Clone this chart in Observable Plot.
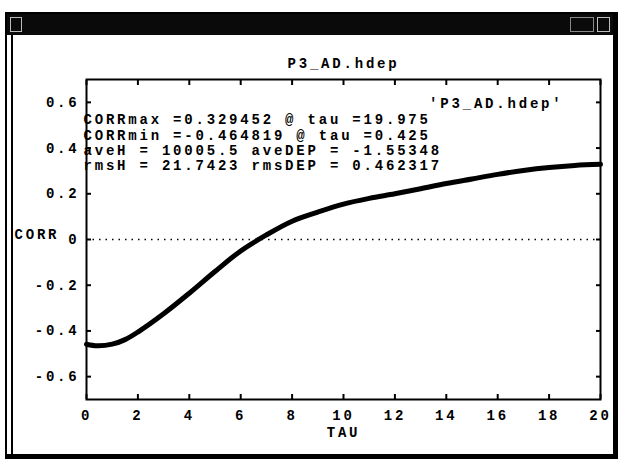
<!DOCTYPE html>
<html>
<head>
<meta charset="utf-8">
<script src="https://cdn.jsdelivr.net/npm/d3@7"></script>
<script src="https://cdn.jsdelivr.net/npm/@observablehq/plot@0.6"></script>
<style>
  html, body { margin: 0; padding: 0; background: #fff; }
  #stage { position: relative; width: 622px; height: 464px; overflow: hidden; background: #fff; }
  #win { position: absolute; left: 5px; top: 12px; width: 613px; height: 447px; border: 2px solid #000; border-right-width: 5px; border-bottom-width: 5px; box-sizing: border-box; }
  #bar { position: absolute; left: 0; top: 0; right: 0; height: 21px; background: #0a0a0a; }
  #bar .ico { position: absolute; top: 3px; height: 13px; border: 1px solid #bbb; }
  #inner { position: absolute; left: 4px; top: 21px; bottom: 0; right: 0; border-left: 2px solid #000; }
  #plot { position: absolute; left: 0; top: 0; }
  #plot svg text { letter-spacing: 2.8px; }
</style>
</head>
<body>
<div id="stage">
  <div id="win">
    <div id="bar">
      <div class="ico" style="left:3px;width:10px;"></div>
      <div class="ico" style="left:563px;width:22px;border-color:#888;"></div>
      <div class="ico" style="left:590px;width:11px;"></div>
    </div>
    <div id="inner"></div>
  </div>
  <div id="plot"></div>
</div>
<script>
const tau  = [0, 0.425, 1, 1.5, 2, 3, 4, 5, 6, 7, 8, 9, 10, 11, 12, 13, 14, 15, 16, 17, 18, 19, 20];
const corr = [-0.458, -0.465, -0.458, -0.438, -0.405, -0.325, -0.235, -0.14, -0.05, 0.02, 0.08, 0.12, 0.155, 0.18, 0.2, 0.222, 0.245, 0.265, 0.285, 0.302, 0.315, 0.324, 0.329];
const xTicks = [0, 2, 4, 6, 8, 10, 12, 14, 16, 18, 20];
const yTicks = [-0.6, -0.4, -0.2, 0, 0.2, 0.4, 0.6];
const titleText = "P3_AD.hdep";
const keyText = "'P3_AD.hdep'";
const statsLines = [
  "CORRmax =0.329452 @ tau =19.975",
  "CORRmin =-0.464819 @ tau =0.425",
  "aveH = 10005.5 aveDEP = -1.55348",
  "rmsH = 21.7423 rmsDEP = 0.462317"
];
const xLabel = "TAU";
const yLabel = "CORR";

const data = tau.map((t, i) => ({tau: t, corr: corr[i]}));
const font = {fontFamily: "'Liberation Mono', 'DejaVu Sans Mono', monospace", fontSize: 14, fontWeight: "bold"};

const chart = Plot.plot({
  width: 622,
  height: 464,
  marginLeft: 86,
  marginRight: 22,
  marginTop: 79,
  marginBottom: 65,
  style: {background: "transparent", color: "#000", fontFamily: font.fontFamily, fontSize: "14px", fontWeight: "bold"},
  x: {domain: [0, 20]},
  y: {domain: [-0.7, 0.7]},
  marks: [
    Plot.ruleY([0], {stroke: "#000", strokeWidth: 1.3, strokeDasharray: "1.5,5"}),
    Plot.line(data, {x: "tau", y: "corr", curve: "catmull-rom", stroke: "#000", strokeWidth: 5, strokeLinecap: "round"}),
    Plot.frame({stroke: "#000", strokeWidth: 2}),
    Plot.axisX({ticks: xTicks, tickSize: -5, tickPadding: 16, strokeWidth: 2, tickFormat: d => String(d), label: null, ...font}),
    Plot.axisX({anchor: "top", ticks: xTicks, tickSize: -5, strokeWidth: 2, tickFormat: () => "", label: null}),
    Plot.axisY({ticks: yTicks, tickSize: -5, tickPadding: 12, strokeWidth: 2, tickFormat: d => String(d), label: null, ...font}),
    Plot.axisY({anchor: "right", ticks: yTicks, tickSize: -5, strokeWidth: 2, tickFormat: () => "", label: null}),
    Plot.text([titleText], {frameAnchor: "top", lineAnchor: "middle", dy: -16, ...font}),
    Plot.text([keyText], {frameAnchor: "top-right", lineAnchor: "middle", textAnchor: "end", dx: -37, dy: 24, ...font}),
    ...statsLines.map((s, i) => Plot.text([s], {frameAnchor: "top-left", lineAnchor: "middle", textAnchor: "start", dx: -3, dy: 40.5 + i * 15.3, ...font})),
    Plot.text([yLabel], {frameAnchor: "left", lineAnchor: "middle", textAnchor: "start", dx: -72, dy: -5, ...font}),
    Plot.text([xLabel], {frameAnchor: "bottom", lineAnchor: "middle", dy: 33, ...font})
  ]
});
document.getElementById("plot").appendChild(chart);
</script>
</body>
</html>
